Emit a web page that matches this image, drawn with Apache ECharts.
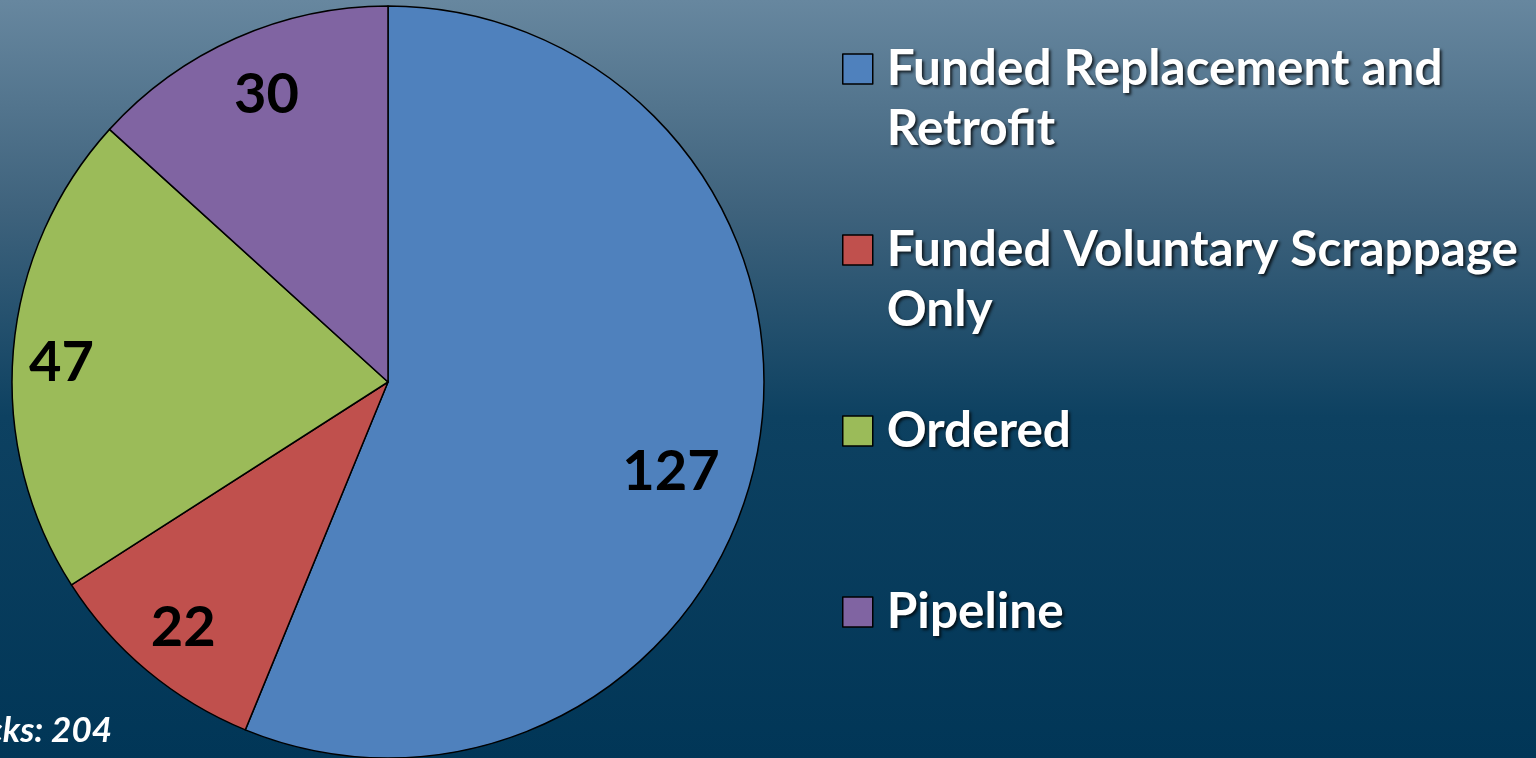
<!DOCTYPE html>
<html><head><meta charset="utf-8">
<script src="https://cdn.jsdelivr.net/npm/echarts@6/dist/echarts.min.js"></script>
<style>html,body{margin:0;padding:0;width:1536px;height:758px;overflow:hidden}#c{width:1536px;height:758px}</style>
</head><body><div id="c"></div>
<script>
const categories = ['Funded Replacement and Retrofit', 'Funded Voluntary Scrappage Only', 'Ordered', 'Pipeline'];
const legendLines = [['Funded Replacement and', 'Retrofit'], ['Funded Voluntary Scrappage', 'Only'], ['Ordered'], ['Pipeline']];
const values = [127, 22, 47, 30];
const colors = ['#4f81bd', '#c0504d', '#9bbb59', '#8064a2'];
const totalText = 'Total Trucks: 204';

const CX = 388, CY = 382, R = 376;
// label radial factor (fraction of radius) and angle tweak (deg, clockwise) per slice
const labelFactor = [0.79, 0.85, 0.87, 0.83];
const labelRot = [6.5, 0, -1.5, 1];

const chart = echarts.init(document.getElementById('c'), null, {renderer: 'canvas'});
const shadow = {textShadowColor: 'rgba(0,0,0,0.75)', textShadowBlur: 3, textShadowOffsetX: 2, textShadowOffsetY: 2};
const legendMap = {};
categories.forEach((c, i) => { legendMap[c] = legendLines[i]; });

chart.setOption({
  backgroundColor: {
    type: 'linear', x: 0, y: 0, x2: 0, y2: 1,
    colorStops: [
      {offset: 0, color: '#67879f'},
      {offset: 0.28, color: '#3e627c'},
      {offset: 0.55, color: '#0d4161'},
      {offset: 1, color: '#013657'}
    ]
  },
  color: colors,
  legend: {
    orient: 'vertical',
    left: 842,
    top: -16,
    padding: 0,
    itemGap: 11,
    itemWidth: 30,
    itemHeight: 30,
    icon: 'rect',
    selectedMode: false,
    data: categories,
    itemStyle: {borderColor: '#000', borderWidth: 1.5},
    formatter: function (name) {
      const l = legendMap[name];
      return '{a| }\n{a|' + l[0] + '}\n{a|' + (l[1] || ' ') + '}';
    },
    textStyle: {
      rich: {
        a: Object.assign({color: '#fff', fontFamily: 'Lato', fontWeight: 'bold', fontSize: 49.5, lineHeight: 60, padding: [0, 0, 0, 9]}, shadow)
      }
    }
  },
  graphic: [{
    type: 'text',
    right: 1536 - 112,
    top: 713,
    style: Object.assign({text: totalText, fill: '#fff', font: 'italic bold 35px Lato', textAlign: 'right'}, {
      shadowColor: 'rgba(0,0,0,0.7)', shadowBlur: 3, shadowOffsetX: 2, shadowOffsetY: 2
    })
  }],
  series: [{
    type: 'pie',
    center: [CX, CY],
    radius: [0, R],
    startAngle: 90,
    clockwise: true,
    animation: false,
    silent: true,
    itemStyle: {borderColor: '#000', borderWidth: 1.5},
    label: {
      show: true,
      position: 'inside',
      formatter: '{c}',
      color: '#000',
      fontFamily: 'Lato',
      fontWeight: 'bold',
      fontSize: 56
    },
    labelLine: {show: false},
    labelLayout: function (p) {
      const lx = p.labelRect.x + p.labelRect.width / 2;
      const ly = p.labelRect.y + p.labelRect.height / 2;
      const ang = Math.atan2(ly - CY, lx - CX) + labelRot[p.dataIndex] * Math.PI / 180;
      const d = labelFactor[p.dataIndex] * R;
      return {dx: CX + d * Math.cos(ang) - lx, dy: CY + d * Math.sin(ang) - ly};
    },
    data: categories.map((c, i) => ({name: c, value: values[i]}))
  }]
});
</script></body></html>
